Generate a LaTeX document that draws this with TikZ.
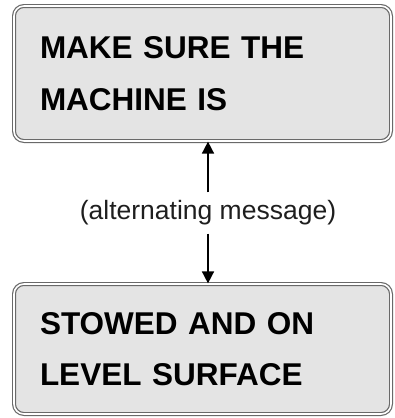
\documentclass[tikz,border=0pt]{standalone}
\usepackage{fontspec}
\setmainfont{Liberation Sans}
\usetikzlibrary{arrows.meta}
\definecolor{paneledge}{RGB}{105,105,105}
\definecolor{panelfill}{RGB}{228,228,228}
\definecolor{msgink}{RGB}{30,30,30}
\tikzset{
  panel/.style={draw=paneledge, double=white, double distance=1.6pt, line width=1.2pt,
    fill=panelfill, rounded corners=10pt, minimum width=377pt, align=left,
    text width=325pt, inner xsep=26pt, font=\bfseries\fontsize{31.5}{51.5}\selectfont},
  link/.style={line width=1.6pt, -{Triangle[length=12pt,width=12pt]}}
}
\begin{document}
\begin{tikzpicture}[x=1pt,y=1pt]
\useasboundingbox (0,0) rectangle (394,-418);

\node[panel, minimum height=135pt] (top) at (202.5,-73.5) {MAKE SURE THE\\MACHINE IS};
\node[panel, minimum height=130pt] (bottom) at (202.5,-349) {STOWED AND ON\\LEVEL SURFACE};
\node[text=msgink, inner ysep=8pt, font=\fontsize{26.5}{30}\selectfont] (alt) at (208,-213) {(alternating message)};

\draw[link] (alt.north) -- (alt.north |- top.south);
\draw[link] (alt.south) -- (alt.south |- bottom.north);
\end{tikzpicture}
\end{document}
